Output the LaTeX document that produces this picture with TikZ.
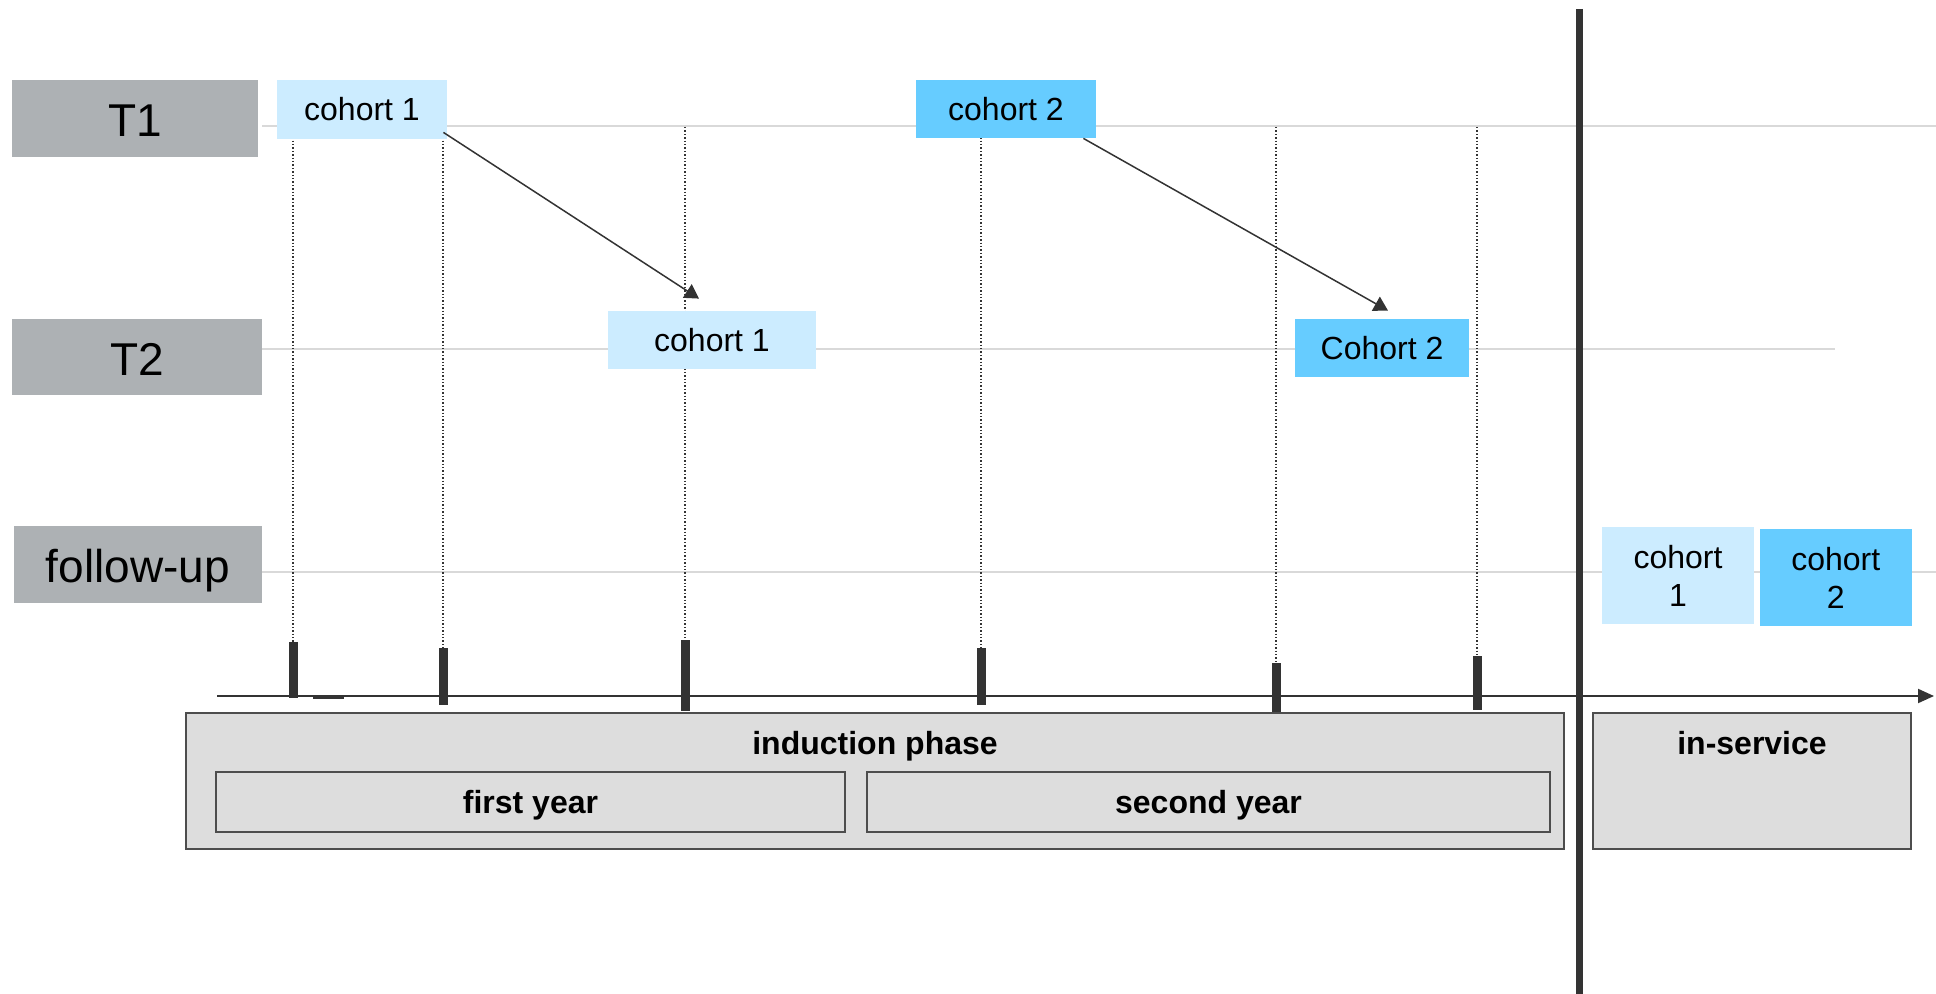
\documentclass[tikz,border=0pt]{standalone}
\usepackage{fontspec}
\setmainfont{Liberation Sans}
\usepackage{xcolor}
\usetikzlibrary{arrows,arrows.meta}
\usetikzlibrary{positioning}
\definecolor{rowgray}{HTML}{ADB1B4}
\definecolor{lightcohort}{HTML}{CCECFF}
\definecolor{darkcohort}{HTML}{66CCFF}
\definecolor{phasefill}{HTML}{DDDDDD}
\definecolor{phaseline}{HTML}{4D4D4D}
\definecolor{gridgray}{HTML}{D9D9D9}
\definecolor{inkdark}{HTML}{333333}

\begin{document}
\begin{tikzpicture}[%
        x=0.5pt, y=-0.5pt,
        every node/.style={rectangle, inner sep=0pt, align=center},
        rowlabel/.style={fill=rowgray, minimum width=123pt, minimum height=38.5pt, text height=18pt, text depth=0pt, font=\fontsize{23}{26}\selectfont},
        cohort/.style={minimum height=29pt, font=\fontsize{16}{19}\selectfont},
        phase/.style={draw=phaseline, line width=1pt, fill=phasefill, text depth=0pt, font=\bfseries\fontsize{16}{19}\selectfont},
        phasetext/.style={text depth=0pt, font=\bfseries\fontsize{16}{19}\selectfont},
        rowline/.style={gridgray, line width=1pt},
        guide/.style={inkdark, densely dotted, line width=0.7pt},
        tick/.style={inkdark, line width=4.5pt},
        move/.style={inkdark, line width=0.75pt, -{Triangle[length=7pt,width=8pt]}}
      ]
      \useasboundingbox (0,0) rectangle (1936,994);

      % row lines
      \coordinate (r1a) at (262,126);  \coordinate (r1b) at (1936,126);
      \coordinate (r2a) at (262,349);  \coordinate (r2b) at (1835,349);
      \coordinate (r3a) at (262,572);  \coordinate (r3b) at (1936,572);
      \draw [rowline] (r1a) -- (r1b) (r2a) -- (r2b) (r3a) -- (r3b);

      % measurement points on the time line
      \coordinate (g1) at (293,127);   \coordinate (k1a) at (293,642);  \coordinate (k1b) at (293,698);
      \coordinate (g2) at (443,127);   \coordinate (k2a) at (443,648);  \coordinate (k2b) at (443,705);
      \coordinate (g3) at (685,127);   \coordinate (k3a) at (685,640);  \coordinate (k3b) at (685,711);
      \coordinate (g4) at (981,127);   \coordinate (k4a) at (981,648);  \coordinate (k4b) at (981,705);
      \coordinate (g5) at (1276,127);  \coordinate (k5a) at (1276,663); \coordinate (k5b) at (1276,713);
      \coordinate (g6) at (1477,127);  \coordinate (k6a) at (1477,656); \coordinate (k6b) at (1477,710);
      \draw [guide] (g1) -- (k1a) (g2) -- (k2a) (g3) -- (k3a)
                    (g4) -- (k4a) (g5) -- (k5a) (g6) -- (k6a);
      \draw [tick] (k1a) -- (k1b) (k2a) -- (k2b) (k3a) -- (k3b)
                   (k4a) -- (k4b) (k5a) -- (k5b) (k6a) -- (k6b);

      % time axis
      \coordinate (ax0) at (217,696);
      \coordinate (ax1) at (1934,696);
      \draw [inkdark, line width=1pt, -{Triangle[length=8pt,width=7pt]}] (ax0) -- (ax1);
      \coordinate (d0) at (313,697);
      \coordinate (d1) at (344,697);
      \draw [inkdark, line width=1.5pt] (d0) -- (d1);

      % rows
      \node (t1) [rowlabel] at (135,118.5) {T1};
      \node (t2) [rowlabel, minimum width=125pt, minimum height=38pt] at (137,357) {T2};
      \node (fu) [rowlabel, minimum width=124pt] at (138,564.5) {follow-up};

      % cohorts
      \node (c11) [cohort, fill=lightcohort, minimum width=85pt, minimum height=29.5pt] at (362,109.5) {cohort 1};
      \node (c12) [cohort, fill=darkcohort, minimum width=90pt] at (1006,109) {cohort 2};
      \node (c21) [cohort, fill=lightcohort, minimum width=104pt] at (712,340) {cohort 1};
      \node (c22) [cohort, fill=darkcohort, minimum width=87pt] at (1382,348) {Cohort 2};
      \node (f1) [cohort, fill=lightcohort, minimum width=76pt, minimum height=48.5pt] at (1678,575.5) {cohort\\1};
      \node (f2) [cohort, fill=darkcohort, minimum width=76pt, minimum height=48.5pt, right=2.5pt of f1, yshift=-1pt] {cohort\\2};

      \draw [move] ([xshift=-2pt,yshift=3.5pt]c11.south east) -- ([xshift=-6.5pt,yshift=6pt]c21.north);
      \draw [move] ([xshift=-6.5pt]c12.south east) -- ([xshift=3pt,yshift=4pt]c22.north);

      % end of induction
      \coordinate (v0) at (1579,9);
      \coordinate (v1) at (1579,994);
      \draw [inkdark, line width=3.5pt] (v0) -- (v1);

      % phases
      \node (ind) [phase, minimum width=689pt, minimum height=68pt] at (875,781) {};
      \node (indtext) [phasetext] at (875,743) {induction phase};
      \node (yr1) [phase, minimum width=314.5pt, minimum height=30pt] at (530.5,802) {first year};
      \node (yr2) [phase, minimum width=341.5pt, minimum height=30pt] at (1208.5,802) {second year};
      \node (srv) [phase, minimum width=159pt, minimum height=68pt] at (1752,781) {};
      \node (srvtext) [phasetext] at (1752,743) {in-service};
    \end{tikzpicture}
\end{document}
